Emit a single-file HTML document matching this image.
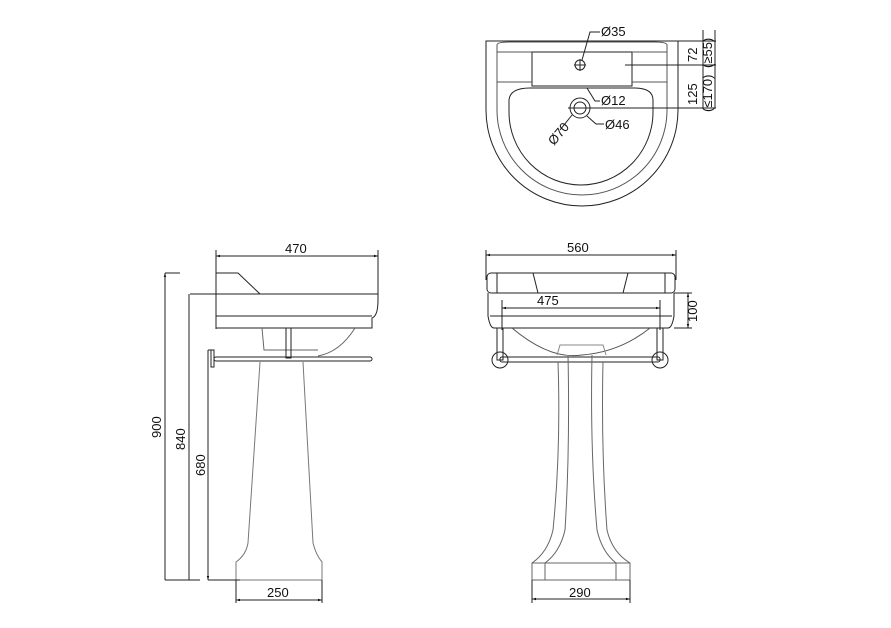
<!DOCTYPE html>
<html><head><style>html,body{margin:0;padding:0;background:#fff}svg{display:block}text{font-family:"Liberation Sans",sans-serif;font-size:13px;fill:#111}</style></head><body>
<svg width="891" height="628" viewBox="0 0 891 628" xmlns="http://www.w3.org/2000/svg">
<defs><marker id="a" viewBox="0 0 10 10" refX="10" refY="5" markerWidth="6" markerHeight="4" orient="auto-start-reverse"><path d="M0,2L10,5L0,8z" fill="#111"/></marker></defs>
<g fill="none" stroke="#222" stroke-width="1">
<path d="M486,41 L486,110 A96,96 0 0 0 678,110 L678,41 Z"/>
<path d="M497,45 Q497,42 510,42 L654,42 Q667,42 667,45 L667,110 A85,85 0 0 1 497,110 Z" stroke="#555"/>
<path d="M509,100 Q510,88 530,88 L634,88 Q653,88 653,100 L653,112 A72,73 0 0 1 509,112 Z"/>
<path d="M532,52 L632,52 L632,86 L532,86 Z"/>
<path d="M497,52 L532,52 M497,82 L532,82 M632,52 L667,52 M632,82 L667,82" stroke="#555"/>
<circle cx="580" cy="65" r="5"/><path d="M574,65H586M580,59V71"/>
<circle cx="580" cy="108" r="10"/><circle cx="580" cy="108" r="6"/>
<path d="M486,41H716 M625,65H716 M568,108H716 M703,30V108 M715,30V108"/>
<path d="M582,60 L590,32 L600,32 M587,88 L595,101 L600,101 M587,116 L596,124 L604,124 M572,115 L560,130"/>
<path d="M216,256H378" marker-start="url(#a)" marker-end="url(#a)"/>
<path d="M216,250V329 M378,250V300 Q378,316 372,318 L372,328 L216,328 M216,273H238 L260,294 M190,294H378 M216,316H372"/>
<path d="M355,328 Q340,352 318,356 M262,328 L264,350 L318,350" stroke="#666"/>
<rect x="286" y="328" width="5" height="30"/>
<rect x="214" y="357" width="158" height="4" rx="2"/>
<rect x="211" y="350" width="3" height="17"/>
<path d="M260,362 L248,543 Q246,555 236,562 L236,580 M303,362 L313,543 Q316,555 322,562 L322,580 M236,580H322" stroke="#777"/>
<path d="M165,273H180 M190,294H215 M208,350H214 M165,580H200 M208,580H240"/>
<path d="M165,273V580 M189,294V580 M208,350V580" marker-start="url(#a)" marker-end="url(#a)"/>
<path d="M236,580V603 M322,580V603"/>
<path d="M236,600H322" marker-start="url(#a)" marker-end="url(#a)"/>
<path d="M486,255H676" marker-start="url(#a)" marker-end="url(#a)"/>
<path d="M486,250V280 M676,250V280"/>
<rect x="487" y="273" width="188" height="20" rx="4"/>
<path d="M497,273V293 M665,273V293 M533,273 L538,293 M628,273 L623,293"/>
<path d="M488,293 L488,316 Q490,328 494,328 L668,328 Q672,328 674,316 L674,293 M490,316H672"/>
<path d="M502,308H660" marker-start="url(#a)" marker-end="url(#a)"/>
<path d="M502,300V330 M660,300V330"/>
<path d="M674,293H692 M674,328H692"/>
<path d="M688,293V328" marker-start="url(#a)" marker-end="url(#a)"/>
<path d="M512,328 Q550,360 582,355 Q620,352 650,328" stroke="#555"/>
<rect x="497" y="328" width="6" height="32"/><rect x="657" y="328" width="6" height="32"/>
<circle cx="500" cy="360" r="8"/><circle cx="660" cy="360" r="8"/>
<rect x="500" y="357" width="160" height="5" rx="2"/>
<path d="M557,355 L560,345 L603,345 L606,355" stroke="#888"/>
<path d="M558,362 Q561,450 553,530 Q548,552 532,563 M568,355 Q570,450 565,530 Q560,552 545,563 M603,362 Q601,450 607,530 Q612,552 630,563 M592,355 Q590,450 597,530 Q602,552 616,563" stroke="#666"/>
<path d="M532,563H630V580H532Z M545,563V580 M616,563V580" stroke="#666"/>
<path d="M532,580V603 M630,580V603"/>
<path d="M532,599H630" marker-start="url(#a)" marker-end="url(#a)"/>
</g>
<text x="601" y="36">Ø35</text>
<text x="601" y="105">Ø12</text>
<text x="605" y="129">Ø46</text>
<text transform="translate(554,146) rotate(-50)">Ø70</text>
<text transform="translate(697,62) rotate(-90)">72</text>
<text transform="translate(712,68) rotate(-90)">(≥55)</text>
<text transform="translate(697,105) rotate(-90)">125</text>
<text transform="translate(712,112) rotate(-90)">(≤170)</text>
<text x="285" y="253">470</text>
<text x="567" y="252">560</text>
<text x="537" y="305">475</text>
<text transform="translate(697,322) rotate(-90)">100</text>
<text transform="translate(161,438) rotate(-90)">900</text>
<text transform="translate(185,450) rotate(-90)">840</text>
<text transform="translate(205,476) rotate(-90)">680</text>
<text x="267" y="597">250</text>
<text x="569" y="597">290</text>
</svg>
</body></html>
